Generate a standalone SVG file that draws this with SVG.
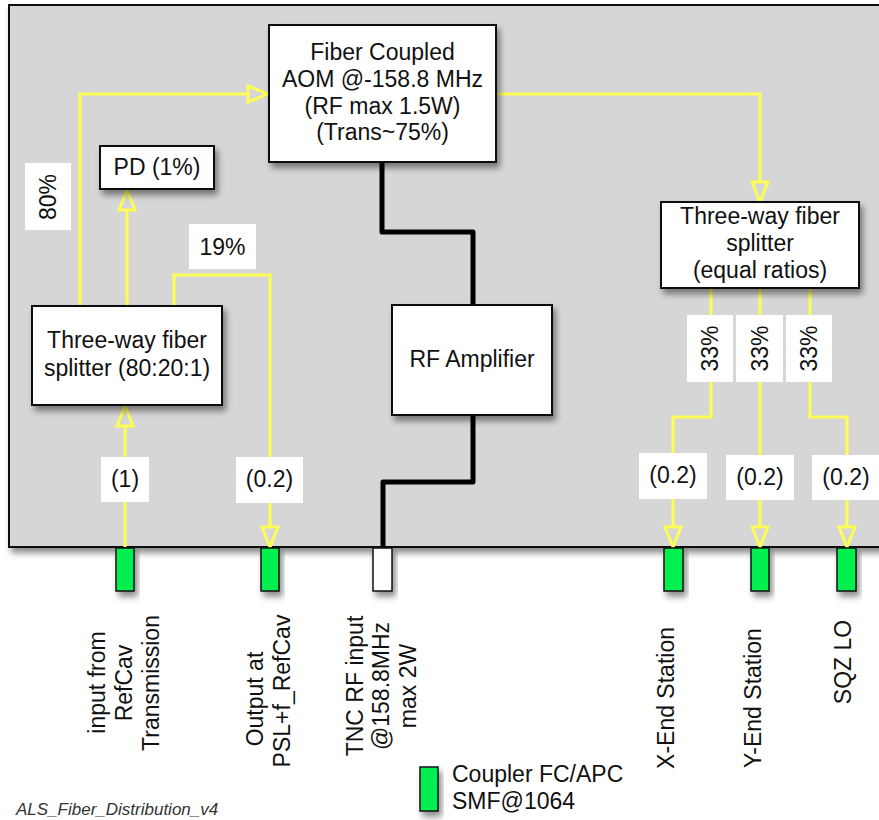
<svg xmlns="http://www.w3.org/2000/svg" width="879" height="820" viewBox="0 0 879 820">
<defs>
<filter id="sh" x="-20%" y="-20%" width="150%" height="160%">
<feDropShadow dx="3" dy="5" stdDeviation="3" flood-color="#000" flood-opacity="0.45"/>
</filter>
<marker id="ah" markerUnits="userSpaceOnUse" viewBox="0 0 24 20" refX="22" refY="10" markerWidth="24" markerHeight="20" orient="auto">
<path d="M2,2 L22,10 L2,18 Z" fill="#d6d6d6" stroke="#fdfd55" stroke-width="3" stroke-linejoin="miter"/>
</marker>
<style>
text{font-family:"Liberation Sans",Arial,Helvetica,sans-serif;font-size:23px;fill:#111}
.box{fill:#fff;stroke:#111;stroke-width:2}
.lbl{fill:#fff;stroke:none}
.y{fill:none;stroke:#fdfd55;stroke-width:3.2;marker-end:url(#ah)}
.k{fill:none;stroke:#000;stroke-width:5;stroke-linejoin:round;stroke-linecap:round}
.port{fill:#00f050;stroke:#111;stroke-width:1.5}
.wport{fill:#fff;stroke:#111;stroke-width:1.5}
.m{text-anchor:middle}
</style>
</defs>
<rect width="879" height="820" fill="#fff"/>
<g id="frame">
<rect x="9" y="5" width="885" height="542" fill="#d6d6d6" stroke="#111" stroke-width="2" filter="url(#sh)"/>
</g>
<g id="connectors">
<path class="y" d="M80,306 V94 H268"/>
<path class="y" d="M127,306 V190"/>
<path class="y" d="M174,306 V275 H270 V547"/>
<path class="y" d="M125,547 V406"/>
<path class="y" d="M496,94 H760 V202"/>
<path class="y" d="M711,288 V417 H673 V547"/>
<path class="y" d="M760,288 V547"/>
<path class="y" d="M810,288 V417 H847 V547"/>
<path class="k" d="M382,162 V232 H473 V305"/>
<path class="k" d="M473,415 V482 H383 V548"/>
</g>
<g id="aom">
<rect class="box" x="269" y="25" width="227" height="137" filter="url(#sh)"/>
<text class="m" x="382.5" y="60">Fiber Coupled</text>
<text class="m" x="382.5" y="87">AOM @-158.8 MHz</text>
<text class="m" x="382.5" y="113.5">(RF max 1.5W)</text>
<text class="m" x="382.5" y="140">(Trans~75%)</text>
</g>
<g id="pd">
<rect class="box" x="100" y="146" width="114" height="43" filter="url(#sh)"/>
<text class="m" x="157" y="175">PD (1%)</text>
</g>
<g id="splitter-left">
<rect class="box" x="32" y="306" width="190" height="99" filter="url(#sh)"/>
<text class="m" x="127" y="348">Three-way fiber</text>
<text class="m" x="127" y="376">splitter (80:20:1)</text>
</g>
<g id="rf-amp">
<rect class="box" x="392" y="305" width="160" height="110" filter="url(#sh)"/>
<text class="m" x="472" y="367">RF Amplifier</text>
</g>
<g id="splitter-right">
<rect class="box" x="661" y="202" width="198" height="86" filter="url(#sh)"/>
<text class="m" x="760" y="224">Three-way fiber</text>
<text class="m" x="760" y="251">splitter</text>
<text class="m" x="760" y="278">(equal ratios)</text>
</g>
<g id="labels">
<rect class="lbl" x="25" y="163" width="46" height="67"/>
<text class="m" transform="translate(56,197) rotate(-90)">80%</text>
<rect class="lbl" x="189" y="224" width="67" height="45"/>
<text class="m" x="222.5" y="255">19%</text>
<rect class="lbl" x="101" y="457" width="48" height="45"/>
<text class="m" x="125" y="487">(1)</text>
<rect class="lbl" x="236" y="457" width="67" height="46"/>
<text class="m" x="269.5" y="487">(0.2)</text>
<rect class="lbl" x="687" y="315" width="46" height="67"/>
<text class="m" transform="translate(718,348.5) rotate(-90)">33%</text>
<rect class="lbl" x="736" y="315" width="47" height="67"/>
<text class="m" transform="translate(767.5,348.5) rotate(-90)">33%</text>
<rect class="lbl" x="786" y="315" width="46" height="67"/>
<text class="m" transform="translate(817,348.5) rotate(-90)">33%</text>
<rect class="lbl" x="639" y="453" width="68" height="46"/>
<text class="m" x="673" y="483">(0.2)</text>
<rect class="lbl" x="726" y="455" width="68" height="45"/>
<text class="m" x="760" y="485">(0.2)</text>
<rect class="lbl" x="812" y="455" width="68" height="45"/>
<text class="m" x="846" y="485">(0.2)</text>
</g>
<g id="ports">
<rect class="port" x="116" y="548" width="18" height="43" filter="url(#sh)"/>
<rect class="port" x="261" y="548" width="18" height="43" filter="url(#sh)"/>
<rect class="wport" x="373" y="548" width="19" height="43" filter="url(#sh)"/>
<rect class="port" x="664" y="548" width="19" height="43" filter="url(#sh)"/>
<rect class="port" x="751" y="548" width="18" height="43" filter="url(#sh)"/>
<rect class="port" x="837" y="548" width="19" height="43" filter="url(#sh)"/>
</g>
<g id="port-labels">
<text class="m" transform="translate(104.5,682.5) rotate(-90)">input from</text>
<text class="m" transform="translate(132,683) rotate(-90)">RefCav</text>
<text class="m" transform="translate(158.5,683) rotate(-90)">Transmission</text>
<text class="m" transform="translate(263,699) rotate(-90)">Output at</text>
<text class="m" transform="translate(290,691) rotate(-90)">PSL+f_RefCav</text>
<text class="m" transform="translate(363,686) rotate(-90)">TNC RF input</text>
<text class="m" transform="translate(389,686) rotate(-90)">@158.8MHz</text>
<text class="m" transform="translate(416,686) rotate(-90)">max 2W</text>
<text class="m" transform="translate(674,698) rotate(-90)">X-End Station</text>
<text class="m" transform="translate(761,698) rotate(-90)">Y-End Station</text>
<text class="m" transform="translate(851,662) rotate(-90)">SQZ LO</text>
</g>
<g id="legend">
<rect class="port" x="420" y="767" width="18" height="44" filter="url(#sh)"/>
<text x="452" y="782">Coupler FC/APC</text>
<text x="452" y="809">SMF@1064</text>
</g>
<text x="16" y="815" style="font-size:17px;font-style:italic;fill:#333">ALS_Fiber_Distribution_v4</text>
</svg>
